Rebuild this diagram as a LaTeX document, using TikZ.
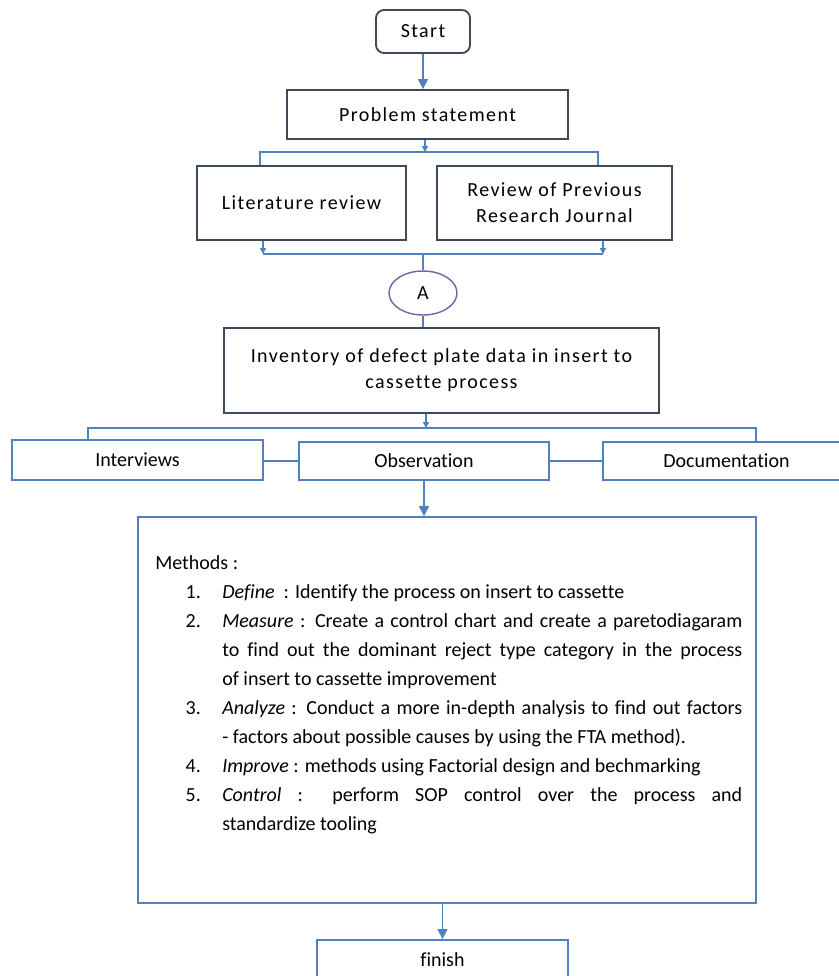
\documentclass[tikz,border=0pt]{standalone}
\usepackage{fontspec}
\setmainfont[Ligatures=NoCommon]{Carlito}
\newfontfamily\lsfont[LetterSpace=7,Ligatures=NoCommon]{Carlito}
\usetikzlibrary{arrows.meta,shapes.geometric,calc}
\definecolor{lblue}{HTML}{4F81BD}
\definecolor{dbord}{HTML}{3E4A5C}
\definecolor{purp}{HTML}{8064A2}
\tikzset{
  darkbox/.style={draw=dbord, line width=1.4pt, rectangle, inner sep=0pt, align=center,
    font=\lsfont\fontsize{15}{19.5}\selectfont},
  bluebox/.style={draw=lblue, line width=1.4pt, rectangle, inner sep=0pt, align=center,
    font=\fontsize{15}{19.5}\selectfont},
  conn/.style={draw=lblue, line width=1.1pt},
  arr/.style={conn, -{Triangle[width=7.5pt,length=7.5pt]}},
  sarr/.style={conn, -{Triangle[width=4.5pt,length=4.5pt]}},
}
\begin{document}
\begin{tikzpicture}[x=0.75pt,y=-0.75pt]
\clip (0,0) rectangle (839,976);
\fill[white] (0,0) rectangle (839,976);
% nodes
\node[darkbox, rounded corners=6pt, minimum width=94*0.75pt, minimum height=43*0.75pt] (start) at (423,31.5) {Start};
\node[darkbox, minimum width=281*0.75pt, minimum height=49*0.75pt] (prob) at (427.5,114.5) {Problem statement};
\node[darkbox, minimum width=209*0.75pt, minimum height=74*0.75pt] (lit) at (301.5,203) {Literature review};
\node[darkbox, minimum width=235*0.75pt, minimum height=74*0.75pt] (rev) at (554.5,203) {Review of Previous\\Research Journal};
\node[ellipse, draw=purp, line width=1.1pt, inner sep=0pt, minimum width=68*0.75pt, minimum height=44*0.75pt,
  font=\fontsize{15}{18}\selectfont] (A) at (423,293) {A};
\node[darkbox, minimum width=435*0.75pt, minimum height=85*0.75pt] (inv) at (441.5,370.5) {Inventory of defect plate data in insert to\\cassette process};
\node[bluebox, minimum width=251*0.75pt, minimum height=40*0.75pt] (int) at (137.5,460) {Interviews};
\node[bluebox, minimum width=250*0.75pt, minimum height=38*0.75pt] (obs) at (424,461) {Observation};
\node[bluebox, minimum width=247*0.75pt, minimum height=38*0.75pt] (doc) at (726.5,461) {Documentation};
\node[draw=lblue, line width=1.4pt, rectangle, inner sep=0pt, minimum width=618*0.75pt, minimum height=386*0.75pt] (meth) at (447,710) {};
\node[bluebox, minimum width=251*0.75pt, minimum height=40*0.75pt] (fin) at (442.5,960) {finish};
% methods text
\node[anchor=north west, inner sep=0pt, text width=587*0.75pt, align=justify,
  font=\fontsize{15}{21.75}\selectfont] (mtext) at (155,555) {%
  \hyphenpenalty=10000 Methods :\par
  \begin{list}{}{\leftmargin=50.25pt\labelwidth=34pt\labelsep=16pt\itemsep=0pt\parsep=0pt\topsep=0pt\partopsep=0pt}
  \item[1.] \textit{Define}\ \ : Identify\ the process on insert to cassette
  \item[2.] \textit{Measure} : Create a control chart and create a paretodiagaram\linebreak
   to find out the dominant reject type category in the process\linebreak
   of insert to cassette\ improvement
  \item[3.] \textit{Analyze} : Conduct a more in-depth analysis to find out factors\linebreak
   - factors about possible causes by using the FTA method).
  \item[4.] \textit{Improve} : methods\ using Factorial design and bechmarking
  \item[5.] \textit{Control} : perform SOP control over the process and\linebreak
   standardize\ tooling
  \end{list}};
% junction coordinates
\coordinate (j1) at (425,152);
\coordinate (j1L) at (260,152);
\coordinate (j1R) at (598,152);
\coordinate (j2L) at (263,254);
\coordinate (j2R) at (603,254);
\coordinate (j2) at (423,254);
\coordinate (j3) at (426,428);
\coordinate (j3L) at (88,428);
\coordinate (j3R) at (756,428);
% connectors
\draw[arr] (start.south) -- (start.south |- prob.north);
\draw[sarr] (prob.south -| j1) -- (j1);
\draw[conn] (lit.north -| j1L) -- (j1L) -- (j1R) -- (rev.north -| j1R);
\draw[sarr] (lit.south -| j2L) -- (j2L);
\draw[sarr] (rev.south -| j2R) -- (j2R);
\draw[conn] (j2L) -- (j2R);
\draw[conn] (j2) -- (A.north);
\draw[conn] (A.south) -- (A.south |- inv.north);
\draw[sarr] (inv.south -| j3) -- (j3);
\draw[conn] (int.north -| j3L) -- (j3L) -- (j3R) -- (doc.north -| j3R);
\draw[conn] (obs.west -| int.east) -- (obs.west);
\draw[conn] (obs.east) -- (obs.east -| doc.west);
\draw[arr] (obs.south) -- (obs.south |- meth.north);
\draw[arr] (meth.south -| fin.north) -- (fin.north);
\end{tikzpicture}
\end{document}
